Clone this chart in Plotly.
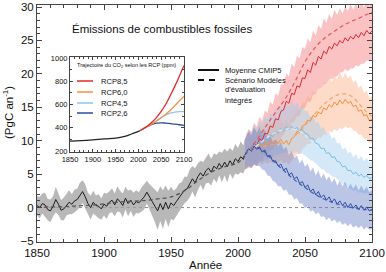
import plotly.graph_objects as go

# ---------------- data ----------------
HIST_YEARS = list(range(1850, 2005, 2)) + [2005]
HIST_MEAN = [0.3, 0.0, 0.6, 0.4, -0.3, -0.5, 0.2, 1.2, 0.5, -0.4,
             -0.2, 0.4, 0.8, 0.5, 1.0, 1.2, 1.9, 2.4, 1.6, 0.6,
             0.0, 0.8, 0.3, 0.2, -0.2, 0.5, 0.2, 0.8, 1.1, 0.4,
             1.3, 0.9, 0.3, 1.4, 0.6, 1.1, 0.4, 0.9, 0.7, 1.2,
             1.6, 2.3, 1.5, 0.9, 0.2, -0.5, 0.6, -0.3, 0.8, -0.2,
             0.7, 0.3, 0.9, 1.5, 1.9, 2.6, 2.8, 3.6, 4.3, 3.7,
             4.6, 5.2, 4.7, 5.5, 5.9, 5.3, 6.2, 5.8, 6.6, 6.0,
             6.8, 6.1, 7.0, 6.4, 7.3, 6.9, 7.6, 7.2,
             7.9]
HIST_HW = [1.4, 1.6, 1.5, 1.8, 1.6, 1.7, 1.5, 1.9, 1.6, 1.5,
           1.7, 1.6, 1.8, 1.5, 1.7, 1.6, 1.8, 1.7, 1.9, 1.6,
           1.8, 1.7, 1.5, 1.8, 1.6, 1.7, 1.9, 1.6, 1.8, 1.7,
           1.9, 1.6, 1.8, 1.7, 1.9, 1.6, 1.8, 1.7, 1.6, 1.8,
           1.9, 1.7, 2.0, 2.2, 2.4, 2.8, 2.6, 2.9, 2.5, 2.7,
           2.4, 2.2, 2.0, 2.1, 1.9, 2.0, 1.8, 2.1, 1.9, 2.2,
           2.0, 1.8, 2.1, 1.9, 2.2, 2.0, 1.9, 2.1, 1.8, 2.2,
           2.0, 2.3, 1.9, 2.1, 2.2, 2.0, 2.3, 2.1,
           2.2]
HIST_IAM_YEARS = [1850, 1860, 1870, 1880, 1890, 1900, 1910, 1920, 1930, 1940,
                  1950, 1960, 1970, 1980, 1990, 2000, 2005]
HIST_IAM = [0.05, 0.1, 0.15, 0.25, 0.35, 0.55, 0.8, 0.95, 1.05, 1.3,
            1.6, 2.5, 4.0, 5.3, 6.1, 6.7, 7.8]

RCP_YEARS = list(range(2006, 2101, 2))
RCP85_MEAN = [8.3, 8.9, 8.6, 9.6, 9.2, 10.3, 10.0, 11.1,
              11.0, 12.2, 12.0, 13.3, 13.1, 14.4, 14.6, 15.9,
              15.6, 17.1, 16.9, 18.2, 18.0, 19.4, 19.3, 20.6,
              20.2, 21.7, 21.3, 22.6, 22.2, 23.4, 23.0, 24.1,
              23.7, 24.6, 24.2, 25.0, 24.6, 25.4, 24.9, 25.6,
              25.2, 25.9, 25.4, 26.2, 25.7, 26.5, 26.0, 26.4]
RCP85_HW = [2.6, 2.9, 2.7, 3.1, 2.9, 3.3, 3.0, 3.4,
            3.2, 3.6, 3.4, 3.8, 3.6, 4.0, 3.8, 4.2,
            4.0, 4.4, 4.1, 4.5, 4.3, 4.6, 4.4, 4.7,
            4.5, 4.8, 4.4, 4.7, 4.5, 4.9, 4.6, 4.8,
            4.5, 5.0, 4.6, 4.8, 4.4, 4.7, 4.5, 4.8,
            4.4, 4.6, 4.3, 4.7, 4.2, 4.5, 4.1, 4.2]
RCP60_MEAN = [8.2, 8.7, 8.4, 9.2, 8.8, 9.6, 9.1, 9.8,
              9.3, 10.0, 9.4, 10.1, 9.6, 10.2, 9.5, 10.0,
              9.4, 10.3, 10.6, 11.4, 11.2, 12.2, 12.4, 13.1,
              12.9, 13.8, 13.5, 14.3, 14.0, 14.9, 14.6, 15.4,
              15.0, 15.8, 15.3, 16.1, 15.5, 16.2, 15.6, 15.9,
              15.1, 15.3, 14.4, 14.6, 13.7, 13.9, 13.0, 13.2]
RCP60_HW = [2.4, 2.6, 2.5, 2.8, 2.6, 2.9, 2.7, 3.0,
            2.8, 3.1, 2.9, 3.2, 3.0, 3.1, 2.9, 3.2,
            3.0, 3.3, 3.1, 3.4, 3.2, 3.5, 3.3, 3.6,
            3.4, 3.7, 3.5, 3.8, 3.6, 3.9, 3.7, 4.0,
            3.8, 4.1, 3.9, 4.2, 3.8, 4.0, 3.7, 3.9,
            3.6, 3.8, 3.5, 3.7, 3.4, 3.6, 3.3, 3.5]
RCP45_MEAN = [8.3, 8.9, 8.6, 9.4, 9.1, 9.9, 9.6, 10.4,
              10.2, 10.9, 10.6, 11.4, 11.1, 11.8, 11.4, 12.1,
              11.6, 12.2, 11.7, 12.0, 11.4, 11.7, 11.1, 11.0,
              10.3, 10.4, 9.6, 9.5, 8.8, 8.9, 8.1, 8.2,
              7.5, 7.6, 6.9, 6.8, 6.1, 6.2, 5.5, 5.6,
              5.0, 5.3, 4.7, 5.0, 4.5, 4.8, 4.3, 4.5]
RCP45_HW = [2.4, 2.7, 2.5, 2.9, 2.6, 3.0, 2.8, 3.2,
            3.0, 3.3, 3.1, 3.5, 3.2, 3.6, 3.3, 3.7,
            3.4, 3.8, 3.5, 3.7, 3.4, 3.6, 3.3, 3.5,
            3.2, 3.4, 3.1, 3.3, 3.0, 3.2, 2.9, 3.1,
            2.8, 3.0, 2.7, 2.9, 2.6, 2.8, 2.6, 2.8,
            2.5, 2.7, 2.5, 2.7, 2.4, 2.6, 2.4, 2.5]
RCP26_MEAN = [8.2, 8.8, 8.4, 9.2, 8.7, 9.1, 8.3, 8.6,
              7.6, 7.8, 6.9, 7.0, 6.2, 6.5, 5.6, 5.9,
              4.9, 5.2, 4.3, 4.6, 3.6, 3.9, 3.0, 3.4,
              2.4, 2.8, 1.9, 2.4, 1.5, 1.9, 1.1, 1.6,
              0.8, 1.3, 0.5, 1.0, 0.3, 0.8, 0.0, 0.6,
              -0.1, 0.4, -0.3, 0.3, -0.4, 0.1, -0.5, -0.3]
RCP26_HW = [2.3, 2.6, 2.4, 2.8, 2.5, 2.9, 2.6, 3.0,
            2.8, 3.1, 2.9, 3.2, 3.0, 3.3, 3.1, 3.2,
            3.0, 3.3, 3.1, 3.2, 3.0, 3.3, 3.1, 3.2,
            3.0, 3.2, 2.9, 3.1, 2.9, 3.2, 3.0, 3.1,
            2.9, 3.1, 2.8, 3.0, 2.9, 3.1, 2.8, 3.0,
            2.9, 3.1, 2.8, 3.0, 2.9, 3.0, 2.8, 2.9]

IAM_YEARS = list(range(2005, 2101, 5))
RCP85_IAM = [7.8, 9.0, 10.4, 11.9, 13.4, 14.8, 16.2, 17.9, 19.8, 21.8,
             23.3, 24.5, 25.4, 26.1, 26.8, 27.4, 27.9, 28.3, 28.8, 29.2]
RCP60_IAM = [7.8, 8.5, 8.9, 9.2, 9.4, 9.6, 9.8, 10.3, 11.2, 12.3,
             13.5, 14.6, 15.6, 16.4, 16.9, 17.0, 16.6, 15.6, 14.5, 13.6]
RCP45_IAM = [7.8, 8.6, 9.4, 10.2, 10.9, 11.4, 11.7, 11.8, 11.5, 10.8,
             9.9, 9.0, 8.1, 7.2, 6.3, 5.5, 4.9, 4.5, 4.2, 4.1]
RCP26_IAM = [7.8, 8.6, 8.9, 8.3, 7.3, 6.3, 5.4, 4.5, 3.7, 3.0,
             2.3, 1.7, 1.2, 0.8, 0.5, 0.2, 0.0, -0.2, -0.3, -0.4]

ZERO_YEARS = [1850, 2100]
ZERO_VALUES = [0, 0]

# inset: CO2 concentration (ppm)
CO2_HIST_YEARS = [1850, 1875, 1900, 1925, 1950, 1960, 1970, 1980, 1990, 2000, 2005]
CO2_HIST = [285, 289, 296, 305, 311, 317, 326, 339, 354, 369, 379]
CO2_RCP_YEARS = [2005, 2020, 2030, 2040, 2050, 2060, 2070, 2080, 2090, 2100]
CO2_RCP85 = [379, 415, 449, 490, 541, 602, 677, 758, 845, 936]
CO2_RCP60 = [379, 412, 435, 460, 486, 516, 550, 590, 632, 670]
CO2_RCP45 = [379, 412, 435, 459, 487, 510, 526, 534, 538, 538]
CO2_RCP26 = [379, 412, 430, 440, 443, 440, 436, 431, 426, 421]

RCP_NAMES = ["RCP8,5", "RCP6,0", "RCP4,5", "RCP2,6"]

# ---------------- style ----------------
W, H = 386, 272
FONT = "Liberation Sans, Arial, Helvetica, sans-serif"
C_LINE = {"RCP8,5": "#e0282c", "RCP6,0": "#f2913f", "RCP4,5": "#7cbbe8", "RCP2,6": "#2d4d9e"}
C_DASH = {"RCP8,5": "#e2575c", "RCP6,0": "#f4a46a", "RCP4,5": "#d9ecf8", "RCP2,6": "#3e5fb0"}
C_BAND = {"RCP8,5": "rgba(244,120,120,0.45)", "RCP6,0": "rgba(250,170,125,0.42)",
          "RCP4,5": "rgba(160,205,238,0.45)", "RCP2,6": "rgba(105,128,200,0.45)"}
C_INSET = {"RCP8,5": "#e0282c", "RCP6,0": "#f2913f", "RCP4,5": "#8cc6ee", "RCP2,6": "#2d4d9e"}


def px(x):
    return x / W


def py(y):
    return 1 - y / H


fig = go.Figure()

def band(x, mean, hw, color):
    up = [m + h for m, h in zip(mean, hw)]
    lo = [m - h for m, h in zip(mean, hw)]
    fig.add_trace(go.Scatter(x=x + x[::-1], y=up + lo[::-1], fill="toself",
                             fillcolor=color, line=dict(width=0), mode="lines",
                             hoverinfo="skip", showlegend=False))

series = {
    "RCP8,5": (RCP85_MEAN, RCP85_HW, RCP85_IAM),
    "RCP6,0": (RCP60_MEAN, RCP60_HW, RCP60_IAM),
    "RCP4,5": (RCP45_MEAN, RCP45_HW, RCP45_IAM),
    "RCP2,6": (RCP26_MEAN, RCP26_HW, RCP26_IAM),
}

# zero dotted line
fig.add_trace(go.Scatter(x=ZERO_YEARS, y=ZERO_VALUES, mode="lines",
                         line=dict(color="#888888", width=1, dash="dot"),
                         showlegend=False, hoverinfo="skip"))

band(HIST_YEARS, HIST_MEAN, HIST_HW, "rgba(160,160,160,0.75)")
for name in RCP_NAMES:
    m, hw, _ = series[name]
    band([2005] + RCP_YEARS, [HIST_MEAN[-1]] + m, [HIST_HW[-1]] + hw, C_BAND[name])

fig.add_trace(go.Scatter(x=HIST_YEARS, y=HIST_MEAN, mode="lines",
                         line=dict(color="#1a1a1a", width=1), showlegend=False))
fig.add_trace(go.Scatter(x=HIST_IAM_YEARS, y=HIST_IAM, mode="lines", line_shape="spline",
                         line=dict(color="#555555", width=1.2, dash="4px,3px"), showlegend=False))
for name in RCP_NAMES:
    m, hw, iam = series[name]
    fig.add_trace(go.Scatter(x=[2005] + RCP_YEARS, y=[HIST_MEAN[-1]] + m, mode="lines",
                             line=dict(color=C_LINE[name], width=1), showlegend=False))
    fig.add_trace(go.Scatter(x=IAM_YEARS, y=iam, mode="lines", line_shape="spline",
                             line=dict(color=C_DASH[name], width=1.2, dash="4px,3px"),
                             showlegend=False))

# inset
fig.add_trace(go.Scatter(x=CO2_HIST_YEARS, y=CO2_HIST, mode="lines", line_shape="spline",
                         line=dict(color="#222222", width=1.2), xaxis="x2", yaxis="y2",
                         showlegend=False))
for name, vals in zip(RCP_NAMES[::-1], [CO2_RCP26, CO2_RCP45, CO2_RCP60, CO2_RCP85]):
    fig.add_trace(go.Scatter(x=CO2_RCP_YEARS, y=vals, mode="lines", line_shape="spline",
                             line=dict(color=C_INSET[name], width=1.3), xaxis="x2", yaxis="y2",
                             showlegend=False))

axis_common = dict(showline=True, linecolor="#444444", linewidth=1, mirror="ticks",
                   ticks="inside", tickcolor="#444444", showgrid=False, zeroline=False,
                   automargin=False, ticklabeloverflow="allow")

fig.update_layout(
    width=W, height=H, margin=dict(l=0, r=0, t=0, b=0),
    paper_bgcolor="white", plot_bgcolor="white",
    font=dict(family=FONT, color="#111111"),
    xaxis=dict(domain=[px(37), px(372)], range=[1850, 2100], tickvals=list(range(1850, 2101, 50)),
               ticklen=5, tickfont=dict(size=11.5), minor=dict(dtick=10, ticklen=3, ticks="inside",
                                                               tickcolor="#444444"),
               **axis_common),
    yaxis=dict(domain=[py(242), py(5)], range=[-5.15, 30.3], tickvals=list(range(-5, 31, 5)),
               ticklen=5, tickfont=dict(size=11.5), minor=dict(dtick=1, ticklen=3, ticks="inside",
                                                               tickcolor="#444444"),
               **axis_common),
    xaxis2=dict(domain=[px(70), px(184)], range=[1850, 2100], anchor="y2",
                tickvals=list(range(1850, 2101, 50)), ticklen=3, tickfont=dict(size=7.5),
                minor=dict(dtick=10, ticklen=2, ticks="inside", tickcolor="#444444"),
                **axis_common),
    yaxis2=dict(domain=[py(152), py(57)], range=[192, 1008], anchor="x2",
                tickvals=list(range(200, 1001, 200)), ticklen=3, tickfont=dict(size=7.5),
                minor=dict(dtick=100, ticklen=2, ticks="inside", tickcolor="#444444"),
                **axis_common),
    showlegend=False,
)

P = dict(xref="paper", yref="paper", showarrow=False)
ann = []
ann.append(dict(x=px(70), y=py(29), text="Émissions de combustibles fossiles",
                xanchor="left", yanchor="middle", font=dict(size=11.5), **P))
ann.append(dict(x=px(8), y=py(113), text="(PgC an<sup>-1</sup>)", textangle=-90,
                xanchor="center", yanchor="middle", font=dict(size=11.5), **P))
ann.append(dict(x=px(205), y=py(265), text="Année",
                xanchor="center", yanchor="middle", font=dict(size=11.5), **P))
ann.append(dict(x=px(75), y=py(65), text="Trajectoire du CO<sub>2</sub> selon les RCP (ppm)",
                xanchor="left", yanchor="middle", font=dict(size=5.6), **P))
# main legend
for txt, yy in [("Moyenne CMIP5", 70), ("Scénario Modèles", 80), ("d'évaluation", 90), ("intégrés", 100)]:
    ann.append(dict(x=px(223), y=py(yy), text=txt, xanchor="left",
                    yanchor="middle", font=dict(size=7.6), **P))
# inset legend
shapes = []
for name, yy in zip(RCP_NAMES, [81, 92, 103, 113]):
    ann.append(dict(x=px(99), y=py(yy), text=name, xanchor="left",
                    yanchor="middle", font=dict(size=7.6), **P))
    shapes.append(dict(type="line", xref="paper", yref="paper", x0=px(77), x1=px(93),
                       y0=py(yy), y1=py(yy), line=dict(color=C_INSET[name], width=1.5)))
shapes.append(dict(type="line", xref="paper", yref="paper", x0=px(198), x1=px(219),
                   y0=py(70), y1=py(70), line=dict(color="#111111", width=2)))
shapes.append(dict(type="line", xref="paper", yref="paper", x0=px(198), x1=px(219),
                   y0=py(80), y1=py(80), line=dict(color="#111111", width=2, dash="6px,5px")))

fig.update_layout(annotations=ann, shapes=shapes)
fig.write_html("out.html")
